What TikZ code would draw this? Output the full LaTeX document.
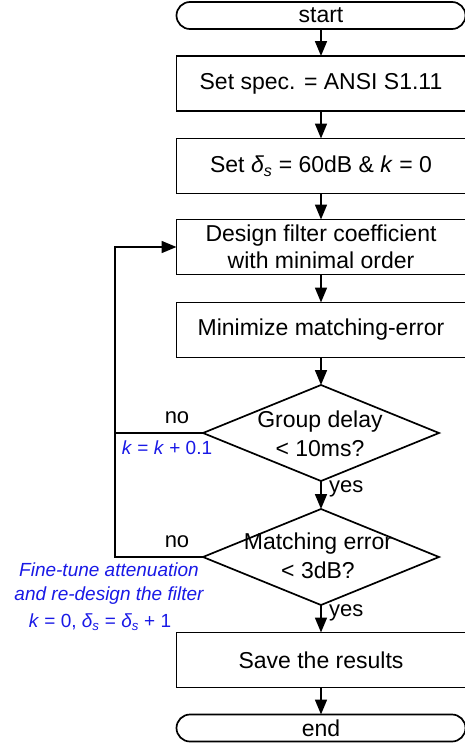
\documentclass[tikz,border=0pt]{standalone}
\usepackage{fontspec}
\setmainfont{Liberation Sans}
\usetikzlibrary{arrows.meta,shapes.geometric}
\definecolor{lblue}{RGB}{25,25,230}
\begin{document}
\begin{tikzpicture}[x=1pt,y=-1pt,
  base/.style={draw,line width=1.7pt,inner sep=0pt,outer sep=0pt},
  box/.style={base,minimum width=289pt,minimum height=55pt,font=\fontsize{23}{27}\selectfont,align=center},
  term/.style={base,rounded corners=13.5pt,minimum width=289pt,minimum height=27pt,font=\fontsize{23}{27}\selectfont},
  dia/.style={base,shape=diamond,minimum width=236pt,minimum height=96pt},
  dtext/.style={inner sep=0pt,font=\fontsize{23}{29}\selectfont,align=center},
  lab/.style={inner sep=0pt,font=\fontsize{22}{26}\selectfont},
  blab/.style={inner sep=0pt,text=lblue,font=\fontsize{19}{24}\selectfont,align=center},
  conn/.style={line width=1.7pt,-{Triangle[width=12pt,length=15pt]}},
  line/.style={line width=1.7pt}]
\useasboundingbox (0,0) rectangle (465,745);
\node[term] (start) at (321,15.5) {start};
\node[box] (b1) at (321,83.5) {Set spec. = ANSI S1.11};
\node[box] (b2) at (321,166) {Set \textit{δ\textsubscript{s}} = 60dB \& \textit{k} = 0};
\node[box] (b3) at (321,247) {Design filter coefficient\\with minimal order};
\node[box] (b4) at (321,330) {Minimize matching-error};
\node[dia] (d1) at (321,433) {};
\node[dtext] (d1t) at (320,433.5) {Group delay\\< 10ms?};
\node[dia] (d2) at (321,557) {};
\node[dtext] (d2t) at (318,556) {Matching error\\< 3dB?};
\node[box] (b5) at (321,660) {Save the results};
\node[term] (end) at (321,728) {end};
\coordinate (L) at (115,557);
\draw[conn] (start) -- (b1);
\draw[conn] (b1) -- (b2);
\draw[conn] (b2) -- (b3);
\draw[conn] (b3) -- (b4);
\draw[conn] (b4) -- (d1);
\draw[conn] (d1) -- (d2);
\draw[conn] (d2) -- (b5);
\draw[conn] (b5) -- (end);
\draw[line] (d1.west) -- (d1.west -| L);
\draw[conn] (d2.west) -- (L) |- (b3.west);
\node[lab] (no1) at (177,418) {no};
\node[lab] (no2) at (177,542) {no};
\node[lab,anchor=west] (yes1) at (329,489) {yes};
\node[lab,anchor=west] (yes2) at (329,613) {yes};
\node[blab] (kinc) at (167,448) {\textit{k} = \textit{k} + 0.1};
\node[blab,font=\fontsize{19}{24}\selectfont\itshape] (fine) at (109,584) {Fine-tune attenuation\\and re-design the filter};
\node[blab] (kds) at (100,622) {\textit{k} = 0, \textit{δ\textsubscript{s}} = \textit{δ\textsubscript{s}} + 1};
\end{tikzpicture}
\end{document}
